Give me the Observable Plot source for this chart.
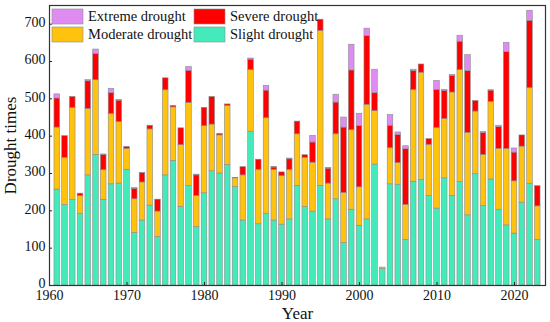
<!DOCTYPE html>
<html>
<head>
<meta charset="utf-8">
<script src="https://cdn.jsdelivr.net/npm/d3@7"></script>
<script src="https://cdn.jsdelivr.net/npm/@observablehq/plot@0.6"></script>
<style>
  html, body { margin: 0; padding: 0; background: white; }
</style>
</head>
<body>
<div id="chart"></div>
<script>
const years = [1961,1962,1963,1964,1965,1966,1967,1968,1969,1970,
  1971,1972,1973,1974,1975,1976,1977,1978,1979,1980,
  1981,1982,1983,1984,1985,1986,1987,1988,1989,1990,
  1991,1992,1993,1994,1995,1996,1997,1998,1999,2000,
  2001,2002,2003,2004,2005,2006,2007,2008,2009,2010,
  2011,2012,2013,2014,2015,2016,2017,2018,2019,2020,
  2021,2022,2023];

const slight = [257,216,229,191,295,350,229,271,273,310,
  141,174,214,130,295,334,211,266,157,247,
  306,300,323,264,174,412,164,191,174,163,
  177,267,211,198,267,177,231,114,203,160,
  177,324,44,271,270,122,278,282,240,206,
  287,240,277,188,298,213,284,203,161,139,
  222,272,122];

const moderate = [166,126,247,49,178,200,80,189,165,56,
  90,102,204,68,228,143,165,223,83,180,
  125,102,158,23,121,165,146,257,136,130,
  133,138,131,131,415,96,174,134,213,103,
  307,143,4,97,58,94,246,288,137,216,
  159,277,300,221,168,137,208,163,205,140,
  150,257,90];

const severe = [78,58,29,6,74,70,40,55,57,5,
  28,25,10,32,32,4,45,86,55,49,
  74,4,4,1,22,28,27,74,6,10,
  28,34,7,54,30,40,85,175,160,164,
  184,48,0,60,75,149,50,22,15,102,
  75,44,76,165,28,58,30,58,259,77,
  30,180,54];

const extreme = [11,0,0,0,3,12,2,12,2,0,
  2,1,0,0,0,0,0,10,2,0,
  0,0,0,0,0,3,0,13,1,0,
  2,0,0,18,0,2,21,27,69,33,
  20,63,0,29,7,8,4,0,0,24,
  3,3,16,43,0,3,1,4,25,11,
  0,27,0];

const types = ["Slight drought", "Moderate drought", "Severe drought", "Extreme drought"];
const colors = ["#44EBBA", "#FFC20E", "#FF0000", "#DE8CF2"];
const xTicks = [1960, 1970, 1980, 1990, 2000, 2010, 2020];
const yTicks = [0, 100, 200, 300, 400, 500, 600, 700];

const series = [slight, moderate, severe, extreme];
const rows = [];
years.forEach((yr, i) => {
  types.forEach((t, k) => rows.push({year: yr, type: t, value: series[k][i]}));
});

const halfW = 0.36;
const font = "'Liberation Serif', 'Times New Roman', serif";

const chart = Plot.plot({
  width: 550,
  height: 322,
  marginLeft: 49,
  marginRight: 5,
  marginTop: 5,
  marginBottom: 37,
  style: {fontFamily: font, fontSize: "14px", color: "#111", background: "white"},
  x: {domain: [1960, 2024]},
  y: {domain: [0, 750]},
  color: {domain: types, range: colors},
  marks: [
    Plot.rect(rows, Plot.stackY({
      x: "year",
      x1: d => d.year - halfW,
      x2: d => d.year + halfW,
      y: "value",
      fill: "type",
      stroke: "#8c8c8c",
      strokeWidth: 0.6
    })),
    Plot.axisX(xTicks, {anchor: "bottom", tickSize: 0, tickPadding: 5, tickFormat: d => String(d),
      label: "Year", labelAnchor: "center", labelOffset: 33, labelArrow: "none"}),
    Plot.axisX(xTicks, {anchor: "bottom", tickSize: 3, dy: -3, text: null, label: null, stroke: "#222"}),
    Plot.axisY(yTicks, {anchor: "left", tickSize: 0, tickPadding: 4, dy: -1.5, fontSize: 14,
      label: "Drought times", labelAnchor: "center", labelOffset: 46, labelArrow: "none"}),
    Plot.axisY(yTicks, {anchor: "left", tickSize: 3, dx: 3, text: null, label: null, stroke: "#222"}),
    Plot.frame({stroke: "#333", strokeWidth: 1.2})
  ]
});

document.getElementById("chart").appendChild(chart);

const svg = d3.select(chart);
svg.selectAll('g[aria-label="x-axis label"] text, g[aria-label="y-axis label"] text')
  .attr("font-size", 17);

// Legend (inside plot, top-left, two columns)
const legendItems = [
  {type: "Extreme drought", col: 0, row: 0},
  {type: "Severe drought", col: 1, row: 0},
  {type: "Moderate drought", col: 0, row: 1},
  {type: "Slight drought", col: 1, row: 1}
];
const colX = [52, 194];
const rowY = [9, 27];
const lg = svg.append("g").attr("aria-label", "legend").attr("text-anchor", "start");
legendItems.forEach(it => {
  const c = colors[types.indexOf(it.type)];
  lg.append("rect")
    .attr("x", colX[it.col]).attr("y", rowY[it.row])
    .attr("width", 31).attr("height", 15)
    .attr("fill", c).attr("stroke", "#8c8c8c").attr("stroke-width", 0.6);
  lg.append("text")
    .attr("x", colX[it.col] + 36).attr("y", rowY[it.row] + 11.5)
    .attr("text-anchor", "start")
    .attr("font-family", font).attr("font-size", 14.5).attr("fill", "#111")
    .text(it.type);
});
</script>
</body>
</html>
